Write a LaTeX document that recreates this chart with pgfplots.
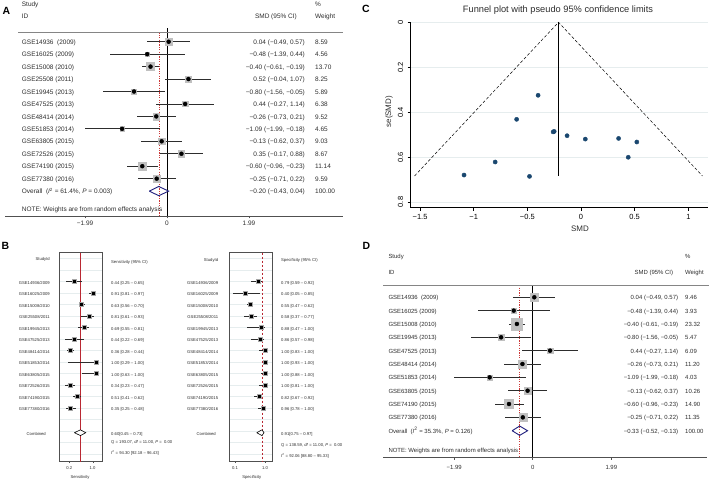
\documentclass[border=0pt]{standalone}
\usepackage{fontspec}
\setmainfont{Liberation Sans}
\usepackage{pgfplots}
\usepackage{pgfplotstable}
\pgfplotsset{compat=1.18}

\definecolor{cigray}{RGB}{45,45,45}
\definecolor{boxgray}{RGB}{192,192,192}
\definecolor{diamnavy}{RGB}{30,30,125}
\definecolor{refred}{RGB}{205,55,55}
\definecolor{sensred}{RGB}{185,40,50}
\definecolor{framegray}{RGB}{80,80,80}
\definecolor{faint}{RGB}{230,237,238}
\definecolor{dotnavy}{RGB}{26,71,111}
\definecolor{txt}{RGB}{45,45,45}

\newcommand\fa{\fontsize{6.5}{7.5}\selectfont}
\newcommand\fd{\fontsize{6.0}{7}\selectfont}
\newcommand\fb{\fontsize{4.2}{5}\selectfont}
\newcommand\fc{\fontsize{7.5}{9}\selectfont}
\newcommand\letter{\fontsize{10.5}{12}\selectfont\bfseries}

% A: SMD per data set (all 12)
\pgfplotstableread{
row smd lo hi w
1 0.04 -0.49 0.57 8.59
2 -0.48 -1.39 0.44 4.56
3 -0.40 -0.61 -0.19 13.70
4 0.52 -0.04 1.07 8.25
5 -0.80 -1.56 -0.05 5.89
6 0.44 -0.27 1.14 6.38
7 -0.26 -0.73 0.21 9.52
8 -1.09 -1.99 -0.18 4.65
9 -0.13 -0.62 0.37 9.03
10 0.35 -0.17 0.88 8.67
11 -0.60 -0.96 -0.23 11.14
12 -0.25 -0.71 0.22 9.59
}\smdA

% D: after dropping GSE25508 and GSE72526
\pgfplotstableread{
row smd lo hi w
1 0.04 -0.49 0.57 9.46
2 -0.48 -1.39 0.44 3.93
3 -0.40 -0.61 -0.19 23.32
4 -0.80 -1.56 -0.05 5.47
5 0.44 -0.27 1.14 6.09
6 -0.26 -0.73 0.21 11.20
7 -1.09 -1.99 -0.18 4.03
8 -0.13 -0.62 0.37 10.26
9 -0.60 -0.96 -0.23 14.90
10 -0.25 -0.71 0.22 11.35
}\smdD

% B: sensitivity and specificity
\pgfplotstableread{
row est lo hi
1 0.44 0.25 0.65
2 0.91 0.81 0.97
3 0.63 0.56 0.70
4 0.81 0.61 0.93
5 0.69 0.55 0.81
6 0.44 0.22 0.69
7 0.36 0.28 0.44
8 1.00 0.29 1.00
9 1.00 0.63 1.00
10 0.34 0.23 0.47
11 0.51 0.41 0.62
12 0.35 0.25 0.48
}\sens
\pgfplotstableread{
row est lo hi
1 0.79 0.59 0.92
2 0.40 0.05 0.85
3 0.55 0.47 0.62
4 0.58 0.37 0.77
5 0.88 0.47 1.00
6 0.86 0.57 0.98
7 1.00 0.83 1.00
8 1.00 0.93 1.00
9 1.00 0.88 1.00
10 1.00 0.81 1.00
11 0.82 0.67 0.92
12 0.96 0.78 1.00
}\spec

% C: funnel points (SMD, se)
\pgfplotstableread{
smd se
-1.09 0.680
-0.80 0.622
-0.60 0.432
-0.40 0.325
-0.48 0.686
-0.26 0.488
-0.25 0.486
-0.13 0.505
0.04 0.520
0.35 0.517
0.52 0.533
0.44 0.601
}\funnel

\pgfplotsset{
  forest/.style={scale only axis, anchor=south west, clip=false,
    axis x line=bottom, axis y line=none, ytick=\empty,
    x axis line style={-, draw=framegray, line width=0.8bp},
    xtick={-1.99,0,1.99}, xticklabels={−1.99,0,1.99},
    tick align=outside, major tick length=2.5bp,
    xtick style={draw=framegray, line width=0.6bp},
    xticklabel style={text=txt}},
  boxes/.style={scatter, only marks, mark=square*,
    scatter/use mapped color={draw=boxgray, fill=boxgray},
    visualization depends on={#1*sqrt(\thisrow{w}) \as \msz},
    scatter/@pre marker code/.append style={/tikz/mark size=\msz}},
  cis/.style={only marks, mark=none, error bars/.cd, x dir=both, x explicit,
    error mark=none, error bar style={draw=cigray, line width=#1}},
  bpanel/.style={scale only axis, anchor=south west, clip=false,
    width=43.4bp, height=209bp, ymin=-16.65, ymax=1.522,
    axis line style={draw=framegray, line width=0.8bp},
    ytick={-16,...,1}, yticklabels={}, ymajorgrids, y tick style={draw=none},
    grid style={draw=faint, line width=0.5bp},
    xtick pos=left, tick align=outside, major tick length=1.5bp,
    xtick style={draw=framegray}, xticklabel style={font=\fb, text=txt}},
}

\begin{document}
\begin{tikzpicture}
\path[use as bounding box] (0,0) rectangle (709bp,480bp);

% ---------- A ----------
\begin{axis}[forest, at={(5bp,264bp)}, width=338bp, height=205.4bp,
  xmin=-3.932, xmax=4.272, ymin=-15, ymax=1.5,
  xticklabel style={font=\fa, yshift=1bp}]
\addplot[black, line width=0.8bp] coordinates {(0,0.1) (0,-15)};
\addplot[refred, line width=0.5bp, dash pattern=on 1.2bp off 1.2bp] coordinates {(-0.20,-0.25) (-0.20,-15)};
\addplot[boxes=1.08] table[x=smd, y expr=-\thisrow{row}] \smdA;
\addplot[cis=0.9bp] table[x=smd, y expr=-\thisrow{row},
  x error plus expr=\thisrow{hi}-\thisrow{smd}, x error minus expr=\thisrow{smd}-\thisrow{lo}] \smdA;
\addplot[only marks, mark=diamond*, mark size=1.5bp, black] table[x=smd, y expr=-\thisrow{row}] \smdA;
\addplot[draw=diamnavy, line width=0.9bp] coordinates {(-0.43,-13) (-0.20,-12.63) (0.04,-13) (-0.20,-13.37) (-0.43,-13)};
\end{axis}

% ---------- D ----------
\begin{axis}[forest, at={(383bp,22.6bp)}, width=323.7bp, height=186.8bp,
  xmin=-3.790, xmax=4.405, ymin=-13, ymax=1,
  xticklabel style={font=\fd, yshift=-2bp}]
\addplot[black, line width=0.8bp] coordinates {(0,-0.1) (0,-13)};
\addplot[refred, line width=0.5bp, dash pattern=on 1.2bp off 1.2bp] coordinates {(-0.33,-0.1) (-0.33,-13)};
\addplot[boxes=1.2] table[x=smd, y expr=-\thisrow{row}] \smdD;
\addplot[cis=0.9bp] table[x=smd, y expr=-\thisrow{row},
  x error plus expr=\thisrow{hi}-\thisrow{smd}, x error minus expr=\thisrow{smd}-\thisrow{lo}] \smdD;
\addplot[only marks, mark=diamond*, mark size=1.5bp, black] table[x=smd, y expr=-\thisrow{row}] \smdD;
\addplot[draw=diamnavy, line width=0.9bp] coordinates {(-0.52,-11) (-0.33,-10.65) (-0.13,-11) (-0.33,-11.35) (-0.52,-11)};
\end{axis}

% ---------- B sensitivity ----------
\begin{axis}[bpanel, at={(59.3bp,18.3bp)}, xmin=0.0788, xmax=1.148,
  xtick={0.325,0.9}, xticklabels={0.2,1.0}]
\addplot[sensred, line width=0.8bp] coordinates {(0.60,1.522) (0.60,-16.65)};
\addplot[cis=0.5bp] table[x=est, y expr=-\thisrow{row},
  x error plus expr=\thisrow{hi}-\thisrow{est}, x error minus expr=\thisrow{est}-\thisrow{lo}] \sens;
\addplot[only marks, mark=square*, mark size=2bp, mark options={fill=black, draw=gray!70, line width=0.6bp}]
  table[x=est, y expr=-\thisrow{row}] \sens;
\addplot[draw=black, fill=white, line width=0.6bp] coordinates {(0.45,-14.13) (0.60,-13.88) (0.73,-14.13) (0.60,-14.38) (0.45,-14.13)};
\end{axis}

% ---------- B specificity ----------
\begin{axis}[bpanel, at={(229.3bp,18.3bp)}, xmin=-0.072, xmax=1.231,
  xtick={0.1,1.0}, xticklabels={0.1,1.0}]
\addplot[sensred, line width=0.8bp, dash pattern=on 2.5bp off 1.5bp] coordinates {(0.91,1.522) (0.91,-16.65)};
\addplot[cis=0.5bp] table[x=est, y expr=-\thisrow{row},
  x error plus expr=\thisrow{hi}-\thisrow{est}, x error minus expr=\thisrow{est}-\thisrow{lo}] \spec;
\addplot[only marks, mark=square*, mark size=2bp, mark options={fill=black, draw=gray!70, line width=0.6bp}]
  table[x=est, y expr=-\thisrow{row}] \spec;
\addplot[draw=black, fill=white, line width=0.6bp] coordinates {(0.75,-14.13) (0.91,-13.88) (0.97,-14.13) (0.91,-14.38) (0.75,-14.13)};
\end{axis}

% ---------- C funnel ----------
\begin{axis}[at={(410.7bp,272.4bp)}, anchor=south west, scale only axis,
  width=297.6bp, height=185.3bp, clip=false,
  xmin=-1.587, xmax=1.186, ymin=-0.825, ymax=0,
  axis x line=bottom, axis y line=left, axis line style={-, draw=black, line width=0.6bp},
  xtick={-1.5,-1,-0.5,0,0.5,1}, xticklabels={−1.5,−1,−0.5,0,0.5,1},
  ytick={-0.8,-0.6,-0.4,-0.2,0}, yticklabels={0.8,0.6,0.4,0.2,0},
  tick align=outside, major tick length=3bp, tick style={draw=black, line width=0.5bp},
  ymajorgrids, grid style={draw=faint, line width=0.6bp},
  xticklabel style={font=\fc}, yticklabel style={font=\fc, xshift=-1bp, rotate=90, anchor=south}]
\addplot[black, line width=0.5bp, dash pattern=on 3bp off 2bp] coordinates {(-1.551,-0.684) (-0.21,0) (1.131,-0.684)};
\addplot[black, line width=0.8bp] coordinates {(-0.21,0) (-0.21,-0.684)};
\addplot[only marks, mark=*, mark size=2.1bp, mark options={fill=dotnavy, draw=dotnavy}]
  table[x=smd, y expr=-\thisrow{se}] \funnel;
\end{axis}

% ---------- text, in pixel coordinates from the top left ----------
\begin{scope}[x=1bp, y=-1bp, shift={(0,480bp)}, every node/.style={inner sep=0pt, text=txt}]
\node[font=\letter, text=black] at (6.5,11.2) {A};
\node[font=\letter, text=black] at (5.5,245.5) {B};
\node[font=\letter, text=black] at (366,9.2) {C};
\node[font=\letter, text=black] at (366.3,246) {D};

% A
\begin{scope}[every node/.append style={font=\fa}]
\node[anchor=mid west] at (21.7,4.3) {Study};
\node[anchor=mid west] at (21.7,16) {ID};
\node[anchor=mid east] at (297,16) {SMD (95\% CI)};
\node[anchor=mid west] at (315,4.3) {\%};
\node[anchor=mid west] at (315,16) {Weight};
\draw[framegray!70, line width=0.7bp] (18,32.3) -- (343,32.3);
\foreach \r/\n/\s/\l/\h/\w in {
 1/GSE14936\ \ (2009)/0.04/−0.49/0.57/8.59,
 2/GSE16025 (2009)/−0.48/−1.39/0.44/4.56,
 3/GSE15008 (2010)/−0.40/−0.61/−0.19/13.70,
 4/GSE25508 (2011)/0.52/−0.04/1.07/8.25,
 5/GSE19945 (2013)/−0.80/−1.56/−0.05/5.89,
 6/GSE47525 (2013)/0.44/−0.27/1.14/6.38,
 7/GSE48414 (2014)/−0.26/−0.73/0.21/9.52,
 8/GSE51853 (2014)/−1.09/−1.99/−0.18/4.65,
 9/GSE63805 (2015)/−0.13/−0.62/0.37/9.03,
 10/GSE72526 (2015)/0.35/−0.17/0.88/8.67,
 11/GSE74190 (2015)/−0.60/−0.96/−0.23/11.14,
 12/GSE77380 (2016)/−0.25/−0.71/0.22/9.59}{
  \pgfmathsetmacro\yy{41.7+12.45*(\r-1)}
  \node[anchor=mid west] at (21.7,\yy) {\n};
  \node[anchor=mid east] at (305,\yy) {\s\ (\l, \h)};
  \node[anchor=mid west] at (315,\yy) {\w};
}
\node[anchor=mid west] at (21.7,191.1) {Overall\ \ (\textit{I}\textsuperscript{2} = 61.4\%, \textit{P} = 0.003)};
\node[anchor=mid east] at (305,191.1) {−0.20 (−0.43, 0.04)};
\node[anchor=mid west] at (315,191.1) {100.00};
\node[anchor=mid west] at (21.7,209.3) {NOTE: Weights are from random effects analysis};
\end{scope}

% D
\begin{scope}[every node/.append style={font=\fd}]
\node[anchor=mid west] at (388.3,255.7) {Study};
\node[anchor=mid west] at (388.3,271.7) {ID};
\node[anchor=mid east] at (673.3,271.7) {SMD (95\% CI)};
\node[anchor=mid west] at (685,255.7) {\%};
\node[anchor=mid west] at (685,271.7) {Weight};
\draw[framegray!70, line width=0.7bp] (383,285.3) -- (709,285.3);
\foreach \r/\n/\s/\l/\h/\w in {
 1/GSE14936\ \ (2009)/0.04/−0.49/0.57/9.46,
 2/GSE16025 (2009)/−0.48/−1.39/0.44/3.93,
 3/GSE15008 (2010)/−0.40/−0.61/−0.19/23.32,
 4/GSE19945 (2013)/−0.80/−1.56/−0.05/5.47,
 5/GSE47525 (2013)/0.44/−0.27/1.14/6.09,
 6/GSE48414 (2014)/−0.26/−0.73/0.21/11.20,
 7/GSE51853 (2014)/−1.09/−1.99/−0.18/4.03,
 8/GSE63805 (2015)/−0.13/−0.62/0.37/10.26,
 9/GSE74190 (2015)/−0.60/−0.96/−0.23/14.90,
 10/GSE77380 (2016)/−0.25/−0.71/0.22/11.35}{
  \pgfmathsetmacro\yy{297.3+13.34*(\r-1)}
  \node[anchor=mid west] at (388.3,\yy) {\n};
  \node[anchor=mid east] at (678.3,\yy) {\s\ (\l, \h)};
  \node[anchor=mid west] at (685,\yy) {\w};
}
\node[anchor=mid west] at (388.3,430.7) {Overall\ \ (\textit{I}\textsuperscript{2} = 35.3\%, \textit{P} = 0.126)};
\node[anchor=mid east] at (678.3,430.7) {−0.33 (−0.52, −0.13)};
\node[anchor=mid west] at (685,430.7) {100.00};
\node[anchor=mid west] at (388.3,450) {NOTE: Weights are from random effects analysis};
\end{scope}

% B
\begin{scope}[every node/.append style={font=\fb}]
\node[anchor=mid east] at (50,258.3) {StudyId};
\node[anchor=mid west] at (111,261) {Sensitivity (95\% CI)};
\node[anchor=mid east] at (218.3,259) {StudyId};
\node[anchor=mid west] at (281,259) {Specificity (95\% CI)};
\foreach \r/\g/\yr/\cs/\cp in {
 1/14936/2009/0.44 [0.25 – 0.65]/0.79 [0.59 – 0.92],
 2/16025/2009/0.91 [0.81 – 0.97]/0.40 [0.05 – 0.85],
 3/15008/2010/0.63 [0.56 – 0.70]/0.55 [0.47 – 0.62],
 4/25508/2011/0.81 [0.61 – 0.93]/0.58 [0.37 – 0.77],
 5/19945/2013/0.69 [0.55 – 0.81]/0.88 [0.47 – 1.00],
 6/47525/2013/0.44 [0.22 – 0.69]/0.86 [0.57 – 0.98],
 7/48414/2014/0.36 [0.28 – 0.44]/1.00 [0.83 – 1.00],
 8/51853/2014/1.00 [0.29 – 1.00]/1.00 [0.93 – 1.00],
 9/63805/2015/1.00 [0.63 – 1.00]/1.00 [0.88 – 1.00],
 10/72526/2015/0.34 [0.23 – 0.47]/1.00 [0.81 – 1.00],
 11/74190/2015/0.51 [0.41 – 0.62]/0.82 [0.67 – 0.92],
 12/77380/2016/0.35 [0.25 – 0.48]/0.96 [0.78 – 1.00]}{
  \pgfmathsetmacro\yy{281.7+11.5*(\r-1)}
  \node[anchor=mid east] at (50,\yy) {GSE\g/\yr};
  \node[anchor=mid west] at (111,\yy) {\cs};
  \node[anchor=mid east] at (218.3,\yy) {GSE\g/\yr};
  \node[anchor=mid west] at (281,\yy) {\cp};
}
\node[anchor=mid east] at (46,432.7) {Combined};
\node[anchor=mid west] at (111,432.7) {0.60[0.45 – 0.73]};
\node[anchor=mid west] at (111,441.3) {Q = 193.07, \textit{df} = 11.00, \textit{P} = \ 0.00};
\node[anchor=mid west] at (111,452) {\textit{I}\textsuperscript{2} = 94.30 [92.18 – 96.43]};
\node[anchor=mid east] at (216,432.7) {Combined};
\node[anchor=mid west] at (281,432.7) {0.91[0.75 – 0.97]};
\node[anchor=mid west] at (281,444) {Q = 138.59, \textit{df} = 11.00, \textit{P} = \ 0.00};
\node[anchor=mid west] at (281,455.3) {\textit{I}\textsuperscript{2} = 92.06 [88.80 – 95.33]};
\node at (80,477) {Sensitivity};
\node at (251.7,477) {Specificity};
\end{scope}

% C
\node[font=\fontsize{9.3}{11}\selectfont] at (558,10) {Funnel plot with pseudo 95\% confidence limits};
\node[font=\fontsize{8}{10}\selectfont, rotate=90] at (389,111.7) {se(SMD)};
\node[font=\fontsize{8}{10}\selectfont] at (580,228.3) {SMD};
\end{scope}
\end{tikzpicture}
\end{document}
